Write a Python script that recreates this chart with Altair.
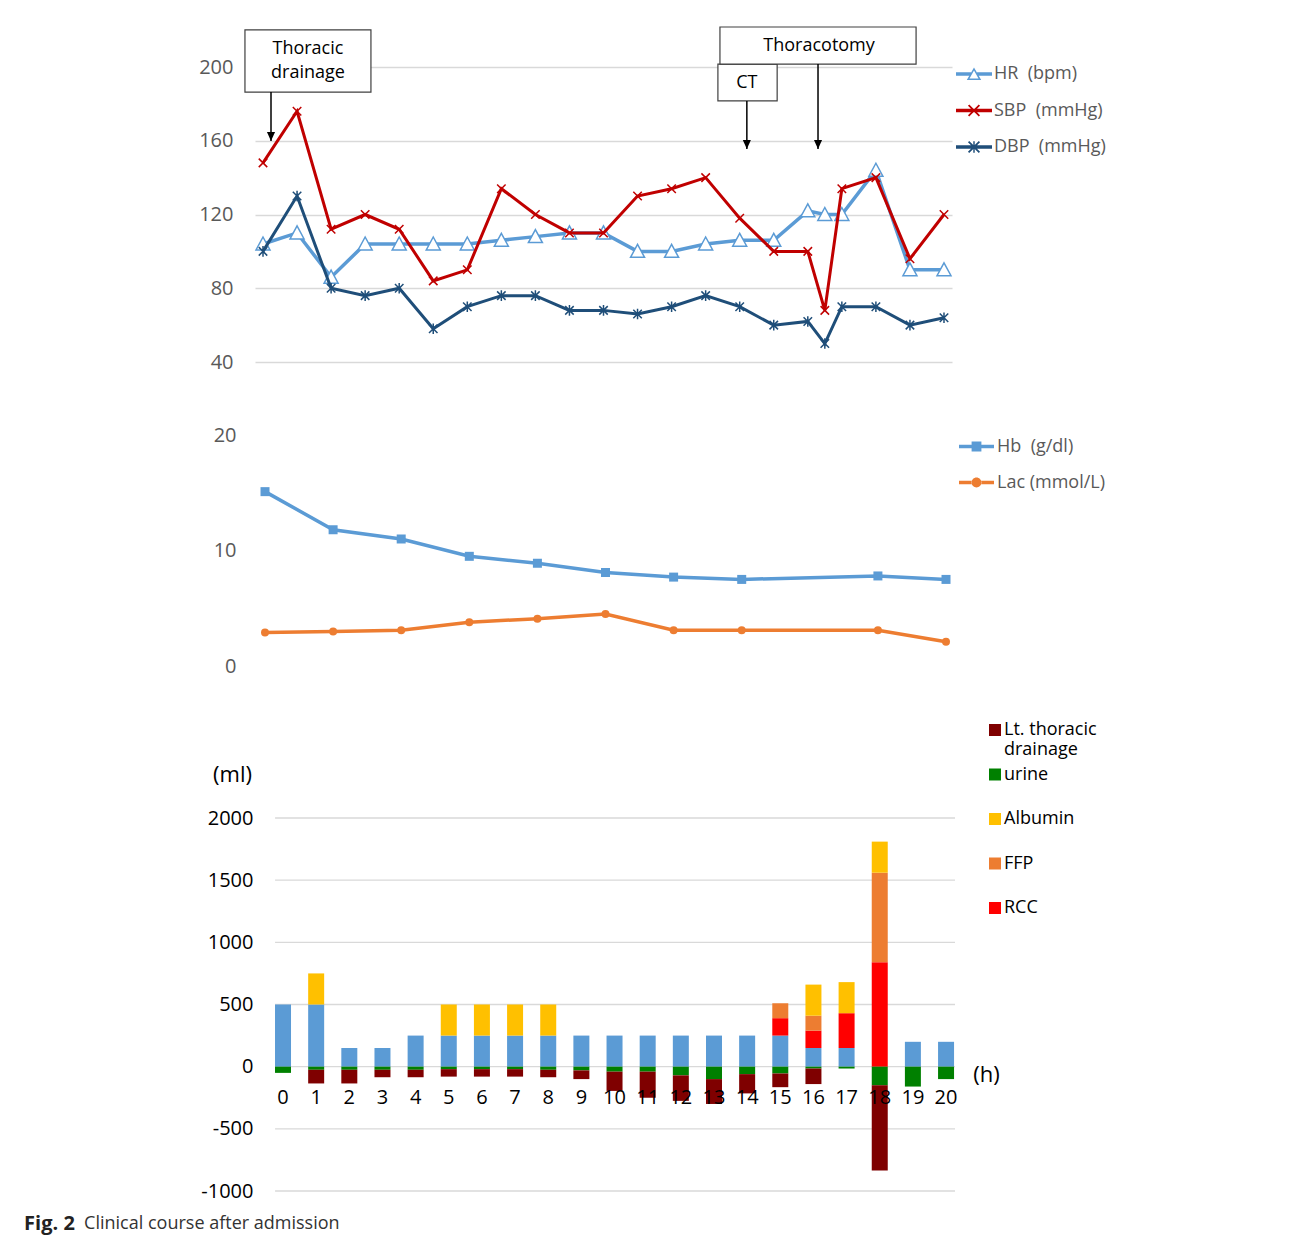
import altair as alt
import pandas as pd

FONT = "Open Sans"
GRAY = "#595959"
GRID = "#d9d9d9"
NB = "\u00a0"

# ---------------- vital signs (top panel) ----------------
vs_time = [0, 1, 2, 3, 4, 5, 6, 7, 8, 9, 10, 11, 12, 13, 14, 15, 16, 16.5, 17, 18, 19, 20]
hr = [104, 110, 86, 104, 104, 104, 104, 106, 108, 110, 110, 100, 100, 104, 106, 106, 122, 120, 120, 144, 90, 90]
sbp = [148, 176, 112, 120, 112, 84, 90, 134, 120, 110, 110, 130, 134, 140, 118, 100, 100, 68, 134, 140, 96, 120]
dbp = [100, 130, 80, 76, 80, 58, 70, 76, 76, 68, 68, 66, 70, 76, 70, 60, 62, 50, 70, 70, 60, 64]
vs_names = ["HR" + NB + " (bpm)", "SBP" + NB + " (mmHg)", "DBP" + NB + " (mmHg)"]

# ---------------- laboratory (middle panel) ----------------
lab_time = [0, 2, 4, 6, 8, 10, 12, 14, 18, 20]
hb = [15.1, 11.8, 11.0, 9.5, 8.9, 8.1, 7.7, 7.5, 7.8, 7.5]
lac = [2.9, 3.0, 3.1, 3.8, 4.1, 4.5, 3.1, 3.1, 3.1, 2.1]
lab_names = ["Hb" + NB + " (g/dl)", "Lac (mmol/L)"]

# ---------------- fluid balance (bottom panel, ml) ----------------
hours = [0, 1, 2, 3, 4, 5, 6, 7, 8, 9, 10, 11, 12, 13, 14, 15, 16, 17, 18, 19, 20]
infusion = [500, 500, 150, 150, 250, 250, 250, 250, 250, 250, 250, 250, 250, 250, 250, 250, 150, 150, 0, 200, 200]
rcc = [0, 0, 0, 0, 0, 0, 0, 0, 0, 0, 0, 0, 0, 0, 0, 140, 140, 280, 840, 0, 0]
ffp = [0, 0, 0, 0, 0, 0, 0, 0, 0, 0, 0, 0, 0, 0, 0, 120, 120, 0, 720, 0, 0]
albumin = [0, 250, 0, 0, 0, 250, 250, 250, 250, 0, 0, 0, 0, 0, 0, 0, 250, 250, 250, 0, 0]
urine = [50, 25, 25, 25, 25, 20, 20, 20, 25, 30, 40, 40, 70, 100, 60, 55, 15, 15, 150, 160, 100]
drainage = [0, 110, 110, 60, 60, 60, 60, 60, 60, 70, 155, 210, 205, 200, 155, 110, 125, 0, 685, 0, 0]
comp_names = ["Lt. thoracic drainage", "urine", "Albumin", "FFP", "RCC", "Infusion"]
comp_colors = ["#7f0000", "#008000", "#ffc000", "#ed7d31", "#ff0000", "#5b9bd5"]
grid_ml = [-1000, -500, 0, 500, 1000, 1500, 2000]

# ---------------- event annotations (top panel) ----------------
ann_text = ["Thoracic\ndrainage", "CT", "Thoracotomy"]
ann_time = [0.235, 14.21, 16.30]
ann_from = [186.4, 181.6, 201.6]
ann_to = [159.9, 155.5, 155.5]
box_left = [-0.53, 13.36, 13.42]
box_right = [3.17, 15.10, 19.18]
box_top = [220.1, 201.6, 221.7]
box_bottom = [186.4, 181.6, 201.6]
label_x = [1.32, 14.21, 16.33]
label_y = [209.8, 191.3, 211.4]

HR_C, SBP_C, DBP_C = "#5b9bd5", "#c00000", "#1f4e79"
HB_C, LAC_C = "#5b9bd5", "#ed7d31"

# marker shapes
TRI = "M0,-1L1,0.85L-1,0.85Z"
XMK = "M-1,-1L1,1M-1,1L1,-1"
AST = "M-1,-1L1,1M-1,1L1,-1M0,-1.25L0,1.25"
HEAD = "M-0.45,-1L0.45,-1L0,0Z"

# legend symbols: line + marker
D1 = "M-0.265,-0.335L0.335,0.265L0.265,0.335L-0.335,-0.265Z"
D2 = "M-0.265,0.335L-0.335,0.265L0.265,-0.335L0.335,-0.265Z"
FULL_LINE = "M-1,-0.1H1V0.1H-1Z"
HR_LEG = ("M-1,-0.1H-0.17V0.1H-1Z M0.17,-0.1H1V0.1H0.17Z "
          "M0,-0.36L0.4,0.33L-0.4,0.33Z M0,-0.2L-0.25,0.25L0.25,0.25Z")
SBP_LEG = FULL_LINE + " " + D1 + " " + D2
DBP_LEG = FULL_LINE + " " + D1 + " " + D2 + " M-0.04,-0.32H0.04V0.32H-0.04Z"
HB_LEG = "M-1,-0.1H-0.28V0.1H-1Z M0.28,-0.1H1V0.1H0.28Z M-0.28,-0.28H0.28V0.28H-0.28Z"
LAC_LEG = ("M-1,-0.1H-0.26V0.1H-1Z M0.26,-0.1H1V0.1H0.26Z "
           "M-0.28,0A0.28,0.28 0 1,0 0.28,0A0.28,0.28 0 1,0 -0.28,0Z")

# ======================= TOP PANEL =======================
xs_top = alt.Scale(domain=[-0.235, 20.235], nice=False, zero=False)
ys_top = alt.Scale(domain=[40, 200], nice=False, zero=False)
top_yaxis = alt.Axis(values=[40, 80, 120, 160, 200], grid=True, gridColor=GRID, gridWidth=1.3,
                     domain=False, ticks=False, labelPadding=22, labelFontSize=20,
                     labelColor=GRAY, labelFont=FONT, title=None)

vs_df = pd.DataFrame({
    "t": vs_time * 3,
    "v": hr + sbp + dbp,
    "s": [n for n in vs_names for _ in vs_time],
})


def tx(f="t"):
    return alt.X(f + ":Q", scale=xs_top, axis=None)


def ty(f="v"):
    return alt.Y(f + ":Q", scale=ys_top, axis=top_yaxis)


base_top = alt.Chart(vs_df)
top_layers = []
styles = [
    (vs_names[0], HR_C, 3.5, dict(shape=TRI, size=196, filled=True, fill="white", stroke=HR_C, strokeWidth=1.5)),
    (vs_names[1], SBP_C, 3, dict(shape=XMK, size=72, filled=False, stroke=SBP_C, strokeWidth=1.5)),
    (vs_names[2], DBP_C, 3, dict(shape=AST, size=72, filled=False, stroke=DBP_C, strokeWidth=1.5)),
]
for name, col, w, pt in styles:
    sub = base_top.transform_filter(alt.datum.s == name)
    top_layers.append(sub.mark_line(color=col, strokeWidth=w).encode(x=tx(), y=ty()))
    top_layers.append(sub.mark_point(opacity=1, **pt).encode(x=tx(), y=ty()))

top_legend = alt.Legend(orient="none", legendX=701, legendY=-11, title=None, symbolSize=1296,
                        symbolStrokeWidth=0, labelFont=FONT, labelFontSize=18, labelColor=GRAY,
                        labelOffset=2, rowPadding=9.5, padding=0, symbolOffset=0, labelLimit=300)
vs_leg = base_top.transform_filter("false").mark_point(filled=True, opacity=1, size=1296).encode(
    x=tx(), y=ty(),
    color=alt.Color("s:N", scale=alt.Scale(domain=vs_names, range=[HR_C, SBP_C, DBP_C]), legend=top_legend),
    shape=alt.Shape("s:N", scale=alt.Scale(domain=vs_names, range=[HR_LEG, SBP_LEG, DBP_LEG]), legend=top_legend),
)

ann_df = pd.DataFrame({
    "label": ann_text, "ax": ann_time, "ay1": ann_from, "ay2": ann_to,
    "bx1": box_left, "bx2": box_right, "by1": box_top, "by2": box_bottom,
    "lx": label_x, "ly": label_y,
})
base_ann = alt.Chart(ann_df)
ann_rect = base_ann.mark_rect(fill="white", stroke="#404040", strokeWidth=1.2).encode(
    x=tx("bx1"), x2="bx2:Q", y=ty("by1"), y2="by2:Q")
ann_txt = base_ann.mark_text(font=FONT, fontSize=18, color="black", lineBreak="\n", lineHeight=24,
                             align="center", baseline="middle").encode(x=tx("lx"), y=ty("ly"), text="label:N")
ann_arrow = base_ann.mark_rule(color="black", strokeWidth=1.5).encode(x=tx("ax"), y=ty("ay1"), y2="ay2:Q")
ann_head = base_ann.mark_point(shape=HEAD, size=324, filled=True, color="black", opacity=1).encode(
    x=tx("ax"), y=ty("ay2"))

top = alt.layer(*top_layers, vs_leg, ann_rect, ann_txt, ann_arrow, ann_head).properties(width=697, height=295)

# ======================= MIDDLE PANEL =======================
xs_mid = alt.Scale(domain=[-0.294, 20.176], nice=False, zero=False)
ys_mid = alt.Scale(domain=[-3.72, 24.42], nice=False, zero=False)
mid_yaxis = alt.Axis(values=[0, 10, 20], grid=False, domain=False, ticks=False, labelPadding=19,
                     labelFontSize=20, labelColor=GRAY, labelFont=FONT, title=None)
lab_df = pd.DataFrame({
    "t": lab_time * 2,
    "v": hb + lac,
    "s": [n for n in lab_names for _ in lab_time],
})


def mx(f="t"):
    return alt.X(f + ":Q", scale=xs_mid, axis=None)


def my(f="v"):
    return alt.Y(f + ":Q", scale=ys_mid, axis=mid_yaxis)


base_mid = alt.Chart(lab_df)
mid_layers = []
for name, col, pt in [(lab_names[0], HB_C, dict(shape="square", size=81)),
                      (lab_names[1], LAC_C, dict(shape="circle", size=64))]:
    sub = base_mid.transform_filter(alt.datum.s == name)
    mid_layers.append(sub.mark_line(color=col, strokeWidth=3.5).encode(x=mx(), y=my()))
    mid_layers.append(sub.mark_point(filled=True, color=col, opacity=1, **pt).encode(x=mx(), y=my()))

mid_legend = alt.Legend(orient="none", legendX=704, legendY=45, title=None, symbolSize=1225,
                        symbolStrokeWidth=0, labelFont=FONT, labelFontSize=18, labelColor=GRAY,
                        labelOffset=3, rowPadding=9, padding=0, symbolOffset=0, labelLimit=300)
lab_leg = base_mid.transform_filter("false").mark_point(filled=True, opacity=1, size=1225).encode(
    x=mx(), y=my(),
    color=alt.Color("s:N", scale=alt.Scale(domain=lab_names, range=[HB_C, LAC_C]), legend=mid_legend),
    shape=alt.Shape("s:N", scale=alt.Scale(domain=lab_names, range=[HB_LEG, LAC_LEG]), legend=mid_legend),
)
mid = alt.layer(*mid_layers, lab_leg).properties(width=697, height=325)

# ======================= BOTTOM PANEL =======================
rows = []
for comp, vals, sign, rank in [("Infusion", infusion, 1, 0), ("RCC", rcc, 1, 1), ("FFP", ffp, 1, 2),
                               ("Albumin", albumin, 1, 3), ("urine", urine, -1, 0),
                               ("Lt. thoracic drainage", drainage, -1, 1)]:
    for h, v in zip(hours, vals):
        if v:
            rows.append({"hour": h, "comp": comp, "ml": sign * v, "rank": rank})
fluid_df = pd.DataFrame(rows)

xs_bot = alt.Scale(domain=[-0.845, 20.27], nice=False, zero=False, padding=0)
ys_bot = alt.Scale(domain=[-1000, 2000], nice=False, zero=False, padding=0)
bot_xaxis = alt.Axis(values=hours, labels=False, grid=False, domain=False, ticks=False, tickSize=0,
                     offset=-124, labelOverlap=False,
                     zindex=1, title="(h)", titleX=731, titleY=7, titleFontSize=22, titleFontWeight="normal",
                     titleFont=FONT, titleColor="black", titleAlign="center", titleBaseline="middle")
bot_yaxis = alt.Axis(values=grid_ml, grid=False, domain=False, ticks=False, labelPadding=2,
                     labelFontSize=20, labelColor="black", labelFont=FONT, labelOverlap=False,
                     labelExpr="'' + datum.value",
                     title="(ml)", titleAngle=0, titleX=-23, titleY=-44, titleFontSize=22,
                     titleFontWeight="normal", titleFont=FONT, titleColor="black",
                     titleAlign="center", titleBaseline="middle")

bot_legend = alt.Legend(orient="none", legendX=731, legendY=-97, title=None, values=comp_names[:5],
                        symbolType="square", symbolSize=144, symbolStrokeWidth=0, labelFont=FONT,
                        labelFontSize=18, labelColor="black", labelOffset=0, rowPadding=6.5, padding=0,
                        gridAlign="all", symbolOffset=0, labelLimit=300,
                        labelExpr="datum.label == 'Lt. thoracic drainage' ? ['Lt. thoracic', 'drainage'] : datum.label")


def bx(f):
    return alt.X(f + ":Q", scale=xs_bot, axis=bot_xaxis)


def by(f, **kw):
    return alt.Y(f + ":Q", scale=ys_bot, axis=bot_yaxis, **kw)


grid_df = pd.DataFrame({"g": grid_ml, "gx1": [-0.24] * len(grid_ml), "gx2": [20.27] * len(grid_ml)})
grid_layer = alt.Chart(grid_df).mark_rule(color=GRID, strokeWidth=1.3).encode(
    x=bx("gx1"), x2="gx2:Q", y=by("g"))

bars = alt.Chart(fluid_df).mark_bar(width=16).encode(
    x=bx("hour"),
    y=by("ml", stack="zero"),
    color=alt.Color("comp:N", scale=alt.Scale(domain=comp_names, range=comp_colors), legend=bot_legend),
    order=alt.Order("rank:Q", sort="ascending"),
)

hour_df = pd.DataFrame({"hour": hours, "base": [0] * len(hours)})
hour_labels = alt.Chart(hour_df).mark_text(font=FONT, fontSize=20, color="black", baseline="middle",
                                           align="center", dy=31).encode(
    x=bx("hour"), y=by("base"), text="hour:N")

cap_df = pd.DataFrame({"c": ["Fig. 2"], "d": ["Clinical course after admission"],
                       "cx": [-7.81], "dx": [-6.0], "cy": [-1263]})
cap1 = alt.Chart(cap_df).mark_text(
    font=FONT, fontSize=20, fontWeight="bold", color="#222222", align="left", baseline="middle").encode(
    x=bx("cx"), y=by("cy"), text="c:N")
cap2 = alt.Chart(cap_df).mark_text(
    font=FONT, fontSize=18, color="#333333", align="left", baseline="middle").encode(
    x=bx("dx"), y=by("cy"), text="d:N")

bot = alt.layer(grid_layer, bars, hour_labels, cap1, cap2).properties(width=700, height=373)

chart = alt.vconcat(top, mid, bot, spacing=10).resolve_scale(
    color="independent", shape="independent"
).properties(
    padding={"left": 15, "top": 17, "right": 10, "bottom": 5}
).configure(font=FONT, view=alt.ViewConfig(stroke="transparent"))

chart.save("out.html", embed_options={"renderer": "svg", "actions": False})
